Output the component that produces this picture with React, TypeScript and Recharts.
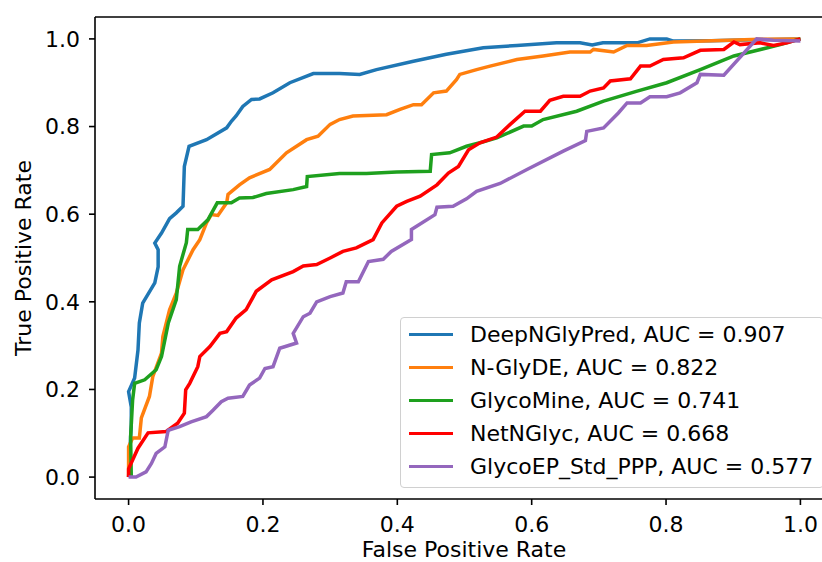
import { LineChart, Line, XAxis, YAxis, ReferenceLine } from 'recharts';

// ROC points: FPR and TPR per model
const deepFpr = [0, 0.004, 0.004, 0, 0.009, 0.014, 0.016, 0.021, 0.039, 0.044, 0.044, 0.039, 0.049, 0.061, 0.071, 0.081, 0.083, 0.09, 0.116, 0.146, 0.153, 0.16, 0.17, 0.183, 0.195, 0.215, 0.24, 0.275, 0.314, 0.344, 0.369, 0.424, 0.473, 0.528, 0.578, 0.637, 0.672, 0.69, 0.706, 0.757, 0.776, 0.801, 0.811, 0.866, 1];
const deepTpr = [0, 0.12, 0.16, 0.195, 0.226, 0.29, 0.352, 0.397, 0.443, 0.48, 0.519, 0.534, 0.557, 0.59, 0.603, 0.618, 0.709, 0.755, 0.77, 0.797, 0.812, 0.824, 0.846, 0.862, 0.863, 0.877, 0.9, 0.921, 0.921, 0.919, 0.93, 0.949, 0.965, 0.98, 0.985, 0.991, 0.991, 0.986, 0.991, 0.991, 1, 1, 0.995, 0.996, 1];

const glydeFpr = [0, 0, 0.006, 0.016, 0.019, 0.031, 0.036, 0.049, 0.051, 0.061, 0.071, 0.081, 0.096, 0.106, 0.116, 0.123, 0.133, 0.146, 0.148, 0.165, 0.18, 0.21, 0.235, 0.265, 0.282, 0.3, 0.314, 0.334, 0.384, 0.404, 0.424, 0.436, 0.454, 0.473, 0.488, 0.493, 0.518, 0.538, 0.578, 0.617, 0.657, 0.687, 0.692, 0.722, 0.742, 0.771, 0.811, 0.94, 1];
const glydeTpr = [0, 0.069, 0.089, 0.089, 0.135, 0.184, 0.229, 0.283, 0.321, 0.382, 0.42, 0.473, 0.519, 0.542, 0.58, 0.599, 0.597, 0.626, 0.645, 0.667, 0.683, 0.702, 0.74, 0.77, 0.778, 0.805, 0.816, 0.824, 0.827, 0.839, 0.85, 0.85, 0.877, 0.881, 0.907, 0.919, 0.93, 0.938, 0.953, 0.961, 0.97, 0.97, 0.976, 0.97, 0.985, 0.985, 0.993, 0.999, 1];

const mineFpr = [0.004, 0.003, 0.006, 0.009, 0.024, 0.041, 0.049, 0.059, 0.071, 0.076, 0.083, 0.086, 0.088, 0.103, 0.118, 0.132, 0.153, 0.165, 0.185, 0.205, 0.245, 0.265, 0.266, 0.314, 0.354, 0.399, 0.449, 0.451, 0.478, 0.503, 0.523, 0.548, 0.588, 0.6, 0.617, 0.667, 0.707, 0.757, 0.801, 0.851, 0.901, 0.97, 1];
const mineTpr = [0, 0.092, 0.176, 0.214, 0.222, 0.245, 0.275, 0.351, 0.405, 0.481, 0.519, 0.535, 0.565, 0.565, 0.587, 0.626, 0.626, 0.637, 0.638, 0.647, 0.656, 0.663, 0.686, 0.693, 0.693, 0.696, 0.698, 0.736, 0.74, 0.755, 0.763, 0.774, 0.801, 0.801, 0.816, 0.835, 0.858, 0.881, 0.9, 0.93, 0.961, 0.987, 1];

const netFpr = [0, 0, 0.006, 0.014, 0.029, 0.056, 0.073, 0.083, 0.085, 0.091, 0.103, 0.106, 0.121, 0.136, 0.146, 0.16, 0.175, 0.19, 0.213, 0.245, 0.26, 0.28, 0.3, 0.319, 0.339, 0.364, 0.377, 0.399, 0.414, 0.434, 0.459, 0.476, 0.491, 0.506, 0.523, 0.548, 0.568, 0.59, 0.613, 0.627, 0.647, 0.672, 0.687, 0.707, 0.717, 0.747, 0.762, 0.776, 0.796, 0.826, 0.851, 0.886, 0.901, 0.91, 0.94, 0.96, 0.98, 1];
const netTpr = [0, 0.019, 0.039, 0.066, 0.101, 0.104, 0.123, 0.146, 0.199, 0.214, 0.252, 0.275, 0.298, 0.328, 0.332, 0.363, 0.382, 0.424, 0.45, 0.469, 0.482, 0.485, 0.5, 0.515, 0.523, 0.542, 0.58, 0.618, 0.629, 0.641, 0.667, 0.694, 0.709, 0.747, 0.763, 0.776, 0.805, 0.835, 0.835, 0.86, 0.869, 0.869, 0.881, 0.888, 0.904, 0.909, 0.938, 0.938, 0.953, 0.957, 0.974, 0.976, 0.993, 0.987, 0.991, 0.985, 0.991, 1];

const epFpr = [0, 0.011, 0.026, 0.034, 0.041, 0.054, 0.059, 0.076, 0.093, 0.116, 0.126, 0.138, 0.148, 0.17, 0.18, 0.195, 0.203, 0.215, 0.225, 0.25, 0.245, 0.26, 0.27, 0.28, 0.3, 0.319, 0.324, 0.342, 0.357, 0.379, 0.391, 0.421, 0.421, 0.456, 0.459, 0.483, 0.503, 0.518, 0.553, 0.593, 0.647, 0.68, 0.682, 0.707, 0.729, 0.742, 0.762, 0.776, 0.801, 0.821, 0.846, 0.851, 0.886, 0.935, 0.96, 1];
const epTpr = [0, 0, 0.012, 0.031, 0.054, 0.069, 0.107, 0.115, 0.126, 0.138, 0.153, 0.172, 0.18, 0.184, 0.21, 0.226, 0.248, 0.252, 0.294, 0.306, 0.328, 0.366, 0.374, 0.4, 0.412, 0.42, 0.446, 0.446, 0.492, 0.497, 0.515, 0.542, 0.565, 0.599, 0.616, 0.618, 0.635, 0.652, 0.67, 0.702, 0.744, 0.768, 0.789, 0.797, 0.831, 0.854, 0.854, 0.868, 0.868, 0.877, 0.9, 0.919, 0.917, 1, 0.997, 0.995];

const names = ['DeepNGlyPred, AUC = 0.907', 'N-GlyDE, AUC = 0.822', 'GlycoMine, AUC = 0.741', 'NetNGlyc, AUC = 0.668', 'GlycoEP_Std_PPP, AUC = 0.577'];
const colors = ['#1f77b4', '#ff7f0e', '#1ea01e', '#ff0000', '#9467bd'];
const ticks = [0, 0.2, 0.4, 0.6, 0.8, 1.0];

const toPoints = (xs: number[], ys: number[]) => xs.map((x, i) => ({ x, y: ys[i] }));

const series = [
  toPoints(deepFpr, deepTpr),
  toPoints(glydeFpr, glydeTpr),
  toPoints(mineFpr, mineTpr),
  toPoints(netFpr, netTpr),
  toPoints(epFpr, epTpr),
].map((points, i) => ({ name: names[i], color: colors[i], points }));

const tickStyle = { fontSize: 22, fill: '#000' };
const axisStyle = { stroke: '#000', strokeWidth: 1.6 };

export default function App() {
  return (
    <div style={{ position: 'absolute', left: 0, top: 0, width: 822, height: 562, overflow: 'hidden', background: '#fff', fontFamily: '"DejaVu Sans", sans-serif' }}>
      <LineChart width={850} height={562} margin={{ top: 17, right: 16, bottom: 0, left: 0 }}>
        <XAxis
          type="number"
          dataKey="x"
          domain={[-0.05, 1.05]}
          ticks={ticks}
          allowDataOverflow
          tickFormatter={(v: number) => v.toFixed(1)}
          height={63}
          tickSize={6}
          tickMargin={11}
          tick={tickStyle}
          axisLine={axisStyle}
          tickLine={axisStyle}
          label={{
            content: () => (
              <text x={464} y={557} textAnchor="middle" fontSize={22} fill="#000">False Positive Rate</text>
            ),
          }}
        />
        <YAxis
          type="number"
          dataKey="y"
          domain={[-0.05, 1.05]}
          ticks={ticks}
          allowDataOverflow
          tickFormatter={(v: number) => v.toFixed(1)}
          width={95}
          tickSize={6}
          tickMargin={9}
          tick={tickStyle}
          axisLine={axisStyle}
          tickLine={axisStyle}
          label={{
            content: () => (
              <text transform="rotate(-90)" x={-258} y={31} textAnchor="middle" fontSize={22} fill="#000">True Positive Rate</text>
            ),
          }}
        />
        <ReferenceLine y={1.05} stroke="#000" strokeWidth={1.6} />
        <ReferenceLine x={1.05} stroke="#000" strokeWidth={1.6} />
        {series.map(s => (
          <Line
            key={s.name}
            data={s.points}
            dataKey="y"
            name={s.name}
            type="linear"
            stroke={s.color}
            strokeWidth={3.5}
            dot={false}
            isAnimationActive={false}
          />
        ))}
      </LineChart>

      <div style={{ position: 'absolute', left: 400, top: 317, width: 424, height: 171, boxSizing: 'border-box', border: '1.5px solid #d0d0d0', borderRadius: 4, background: 'rgba(255,255,255,0.8)' }}>
        {series.map(s => (
          <div key={s.name} style={{ display: 'flex', alignItems: 'center', height: 33 }}>
            <div style={{ width: 44, height: 3.5, marginLeft: 8, background: s.color }} />
            <span style={{ marginLeft: 17, fontSize: 22, lineHeight: 1, color: '#000', whiteSpace: 'nowrap' }}>{s.name}</span>
          </div>
        ))}
      </div>
    </div>
  );
}
